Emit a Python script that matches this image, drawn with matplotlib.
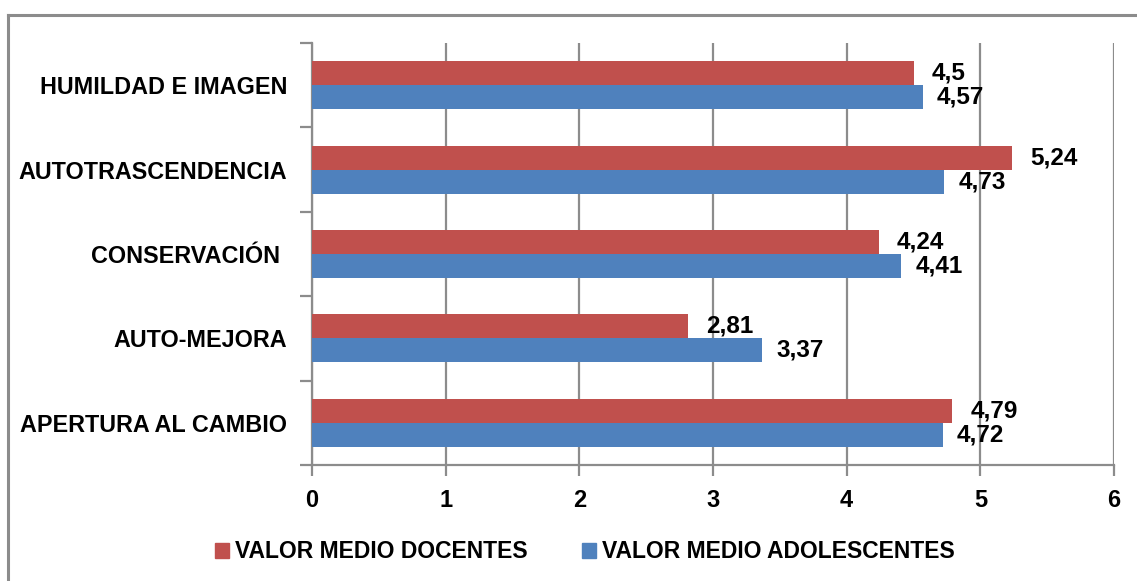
import matplotlib
matplotlib.use("Agg")
import matplotlib.pyplot as plt
from matplotlib.lines import Line2D
from matplotlib.patches import Patch

categorias = ["APERTURA AL CAMBIO", "AUTO-MEJORA", "CONSERVACIÓN ",
              "AUTOTRASCENDENCIA", "HUMILDAD E IMAGEN"]
docentes = [4.79, 2.81, 4.24, 5.24, 4.5]
adolescentes = [4.72, 3.37, 4.41, 4.73, 4.57]
etiquetas_docentes = ["4,79", "2,81", "4,24", "5,24", "4,5"]
etiquetas_adolescentes = ["4,72", "3,37", "4,41", "4,73", "4,57"]
ticks_x = [0, 1, 2, 3, 4, 5, 6]

rojo = "#c0504d"
azul = "#4f81bd"
gris = "#8c8c8c"
fuente = ["Liberation Sans", "DejaVu Sans"]

W, H = 1137, 581
fig = plt.figure(figsize=(W / 100, H / 100), dpi=100)
ax = fig.add_axes([312 / W, (H - 465) / H, 802 / W, 422 / H])

# marco exterior (solo visibles arriba e izquierda)
fig.add_artist(Line2D([8 / W, 1.0], [1 - 15 / H, 1 - 15 / H], color=gris, lw=2.2))
fig.add_artist(Line2D([8 / W, 8 / W], [0, 1 - 15 / H], color=gris, lw=2.2))

y = list(range(len(categorias)))
h = 0.284
ax.barh([v + h / 2 for v in y], docentes, height=h, color=rojo, zorder=3)
ax.barh([v - h / 2 for v in y], adolescentes, height=h, color=azul, zorder=3)

for i in y:
    ax.annotate(etiquetas_docentes[i], (docentes[i], i + h / 2), xytext=(13, 0),
                textcoords="offset points", va="center", ha="left",
                fontsize=17.5, fontweight="bold", family=fuente, zorder=4)
    ax.annotate(etiquetas_adolescentes[i], (adolescentes[i], i - h / 2), xytext=(10, 0),
                textcoords="offset points", va="center", ha="left",
                fontsize=17.5, fontweight="bold", family=fuente, zorder=4)

ax.set_xlim(0, 6)
ax.set_ylim(-0.5, len(categorias) - 0.5)
ax.set_xticks(ticks_x)
ax.set_xticklabels([str(t) for t in ticks_x], fontsize=17, fontweight="bold", family=fuente)
ax.grid(axis="x", color=gris, lw=1.6, zorder=0)

ax.set_yticks(y)
ax.set_yticklabels(categorias, fontsize=16.8, fontweight="bold", family=fuente)
ax.set_yticks([v - 0.5 for v in range(len(categorias) + 1)], minor=True)
ax.tick_params(axis="y", which="major", length=0, pad=18)
ax.tick_params(axis="y", which="minor", length=9, width=1.6, color=gris)
ax.tick_params(axis="x", length=8, width=1.6, color=gris, pad=9)

for s in ["top", "right"]:
    ax.spines[s].set_visible(False)
for s in ["left", "bottom"]:
    ax.spines[s].set_color(gris)
    ax.spines[s].set_linewidth(1.6)

handles = [Patch(color=rojo, label="VALOR MEDIO DOCENTES"),
           Patch(color=azul, label="VALOR MEDIO ADOLESCENTES")]
fig.legend(handles=handles, loc="center", bbox_to_anchor=(585 / W, 1 - 552 / H),
           ncol=2, frameon=False, handlelength=0.6, handleheight=0.6,
           handletextpad=0.25, columnspacing=2.4, borderpad=0,
           prop={"family": fuente, "weight": "bold", "size": 16.5})

fig.savefig("out.png", dpi=100)
